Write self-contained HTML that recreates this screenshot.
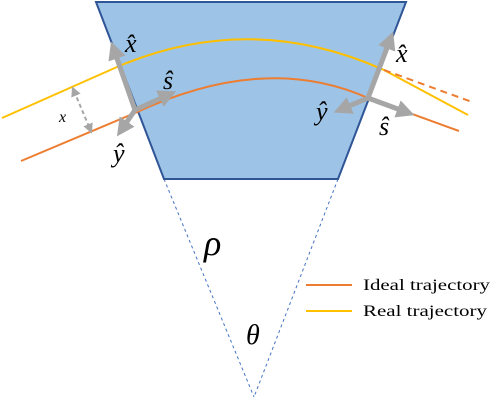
<!DOCTYPE html>
<html><head><meta charset="utf-8"><style>
html,body{margin:0;padding:0;background:#fff;}
svg{display:block;}
</style></head><body>
<svg width="493" height="400" viewBox="0 0 493 400" font-family="'Liberation Serif', serif">
<defs>
<marker id="ah" viewBox="0 0 10 10" refX="5" refY="5" markerWidth="3.6" markerHeight="3.6" orient="auto-start-reverse"><path d="M0,0 L10,5 L0,10 z" fill="#a6a6a6"/></marker>
<marker id="ahs" viewBox="0 0 10 10" refX="5" refY="5" markerWidth="5" markerHeight="5" orient="auto-start-reverse"><path d="M0,0 L10,5 L0,10 z" fill="#a6a6a6"/></marker>
</defs>
<line x1="164" y1="179" x2="254" y2="397" stroke="#4472c4" stroke-width="1" stroke-dasharray="3,3"/>
<line x1="338" y1="179" x2="254" y2="397" stroke="#4472c4" stroke-width="1" stroke-dasharray="3,3"/>
<polygon points="96,2 406,2 338,179 164,179" fill="#9dc3e6" stroke="#2f5597" stroke-width="2"/>
<path d="M2,118 L117,67 Q250,10 384,70 L468,115" fill="none" stroke="#ffc000" stroke-width="2"/>
<path d="M21,161 L135,113 Q265,52 368,98 L459,131" fill="none" stroke="#ed7d31" stroke-width="2"/>
<line x1="384" y1="70" x2="472" y2="102" stroke="#ed7d31" stroke-width="2" stroke-dasharray="7,5"/>
<line x1="74" y1="91" x2="90" y2="129" stroke="#a6a6a6" stroke-width="2" stroke-dasharray="4,3" marker-start="url(#ahs)" marker-end="url(#ahs)"/>
<g stroke="#a6a6a6" stroke-width="5">
<line x1="135" y1="110" x2="114" y2="50" marker-end="url(#ah)"/>
<line x1="135" y1="110" x2="168" y2="95" marker-end="url(#ah)"/>
<line x1="135" y1="110" x2="122" y2="129" marker-end="url(#ah)"/>
</g>
<g stroke="#a6a6a6" stroke-width="5">
<line x1="368" y1="98" x2="390" y2="40" marker-end="url(#ah)"/>
<line x1="368" y1="98" x2="342" y2="109" marker-end="url(#ah)"/>
<line x1="368" y1="98" x2="406" y2="112" marker-end="url(#ah)"/>
</g>
<g font-style="italic" font-size="26" fill="#000" font-family="'Liberation Serif', serif">
<text x="125" y="52">x̂</text>
<text x="163" y="89">ŝ</text>
<text x="113" y="162">ŷ</text>
<text x="396" y="62">x̂</text>
<text x="316" y="120">ŷ</text>
<text x="379" y="135">ŝ</text>
<text x="59" y="122" font-size="16">x</text>
<text x="204" y="255" font-size="36">ρ</text>
<text x="246" y="344" font-size="28">θ</text>
</g>
<g font-family="'Liberation Serif', serif">
<line x1="306" y1="285" x2="352" y2="285" stroke="#ed7d31" stroke-width="2"/>
<text x="363" y="290" font-size="16" textLength="127" lengthAdjust="spacingAndGlyphs">Ideal trajectory</text>
<line x1="306" y1="311" x2="352" y2="311" stroke="#ffc000" stroke-width="2"/>
<text x="363" y="316" font-size="16" textLength="124" lengthAdjust="spacingAndGlyphs">Real trajectory</text>
</g>
</svg>
</body></html>
